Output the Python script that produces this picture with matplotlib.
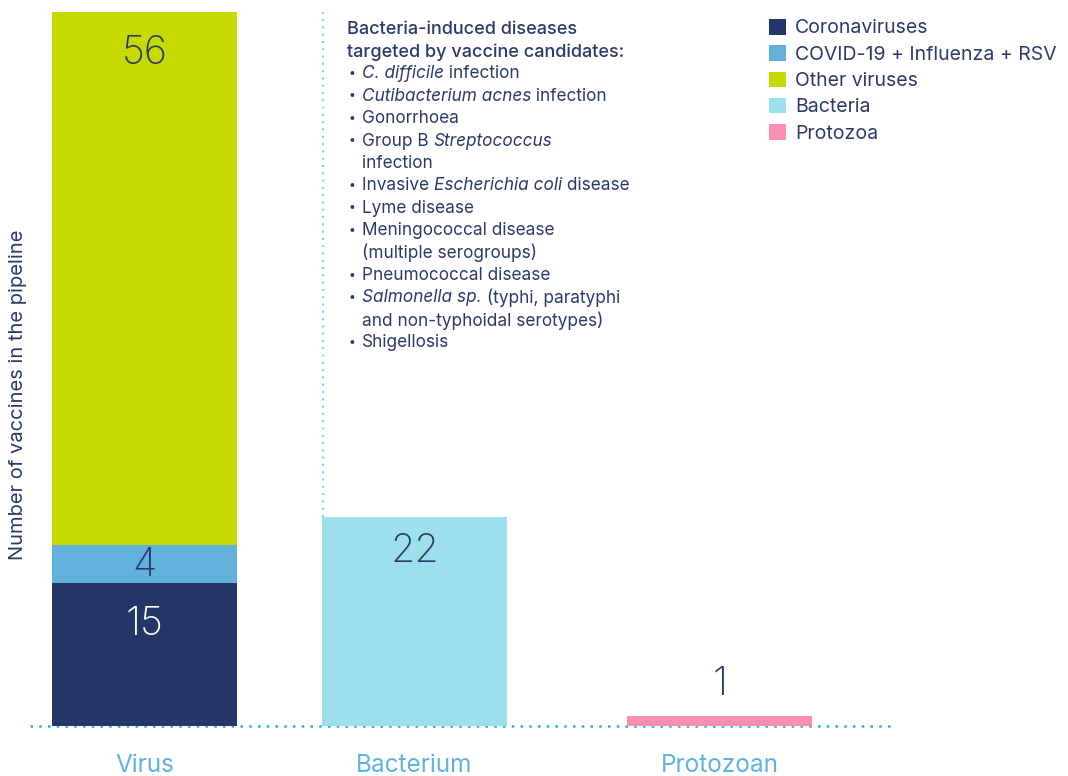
import matplotlib.pyplot as plt

plt.rcParams['font.family'] = ['Inter', 'DejaVu Sans']

categories = ["Virus", "Bacterium", "Protozoan"]
series = ["Coronaviruses", "COVID-19 + Influenza + RSV", "Other viruses", "Bacteria", "Protozoa"]
colors = ["#243568", "#62b1dc", "#c6da00", "#9ddfeb", "#fb8fb2"]
# values per series, per category
coronaviruses = [15, 0, 0]
covid_flu_rsv = [4, 0, 0]
other_viruses = [56, 0, 0]
bacteria = [0, 22, 0]
protozoa = [0, 0, 1]

TXT = "#2b3a6b"
LBL = "#5fb3de"
W, H = 1068, 776

fig = plt.figure(figsize=(W / 100, H / 100), dpi=100)
ax = fig.add_axes([30 / W, 1 - 726 / H, (890 - 30) / W, (726 - 12) / H])

xpos = [0, 1, 2.13]
width = 0.685
stack = [coronaviruses, covid_flu_rsv, other_viruses, bacteria, protozoa]
bottom = [0, 0, 0]
for vals, name, c in zip(stack, series, colors):
    ax.bar(xpos, vals, width, bottom=bottom, color=c, label=name, zorder=2)
    bottom = [b + v for b, v in zip(bottom, vals)]

ax.set_xlim(-0.424, 2.761)
ax.set_ylim(0, 75)
ax.axis("off")

# value labels
num = dict(ha="center", va="center", fontsize=28.5, fontweight="light")
total_virus = coronaviruses[0] + covid_flu_rsv[0] + other_viruses[0]
ax.text(xpos[0], total_virus - 4.4, str(other_viruses[0]), color=TXT, **num)
ax.text(xpos[0], coronaviruses[0] + covid_flu_rsv[0] / 2 - 0.1, str(covid_flu_rsv[0]), color=TXT, **num)
ax.text(xpos[0], coronaviruses[0] - 4.3, str(coronaviruses[0]), color="white", **num)
ax.text(xpos[1], bacteria[1] - 3.7, str(bacteria[1]), color=TXT, **num)
ax.text(xpos[2], protozoa[2] + 3.4, str(protozoa[2]), color=TXT, **num)

# dotted baseline and divider
ax.plot([-0.424, 2.761], [0, 0], linestyle=(0, (1, 2.5)), color="#1fb4e6",
        lw=1.8, zorder=1, clip_on=False)
ax.plot([xpos[1] - width / 2 + 0.005] * 2, [bacteria[1], 75], linestyle=(0, (1, 2.5)),
        color="#7fd3ea", lw=1.5, zorder=1, clip_on=False)

# category labels
for x, cat in zip(xpos, categories):
    ax.text(x, -4.15, cat, ha="center", va="center", fontsize=17.5, color=LBL, clip_on=False)

fig.text(18 / W, 1 - 395 / H, "Number of vaccines in the pipeline", rotation=90,
         ha="center", va="center", fontsize=14.5, color=TXT)

# legend
leg = fig.legend(loc="upper left", bbox_to_anchor=(769 / W, 1 - 19 / H), frameon=False,
                 labelcolor=TXT, handlelength=0.85, handleheight=0.85,
                 handletextpad=0.5, labelspacing=0.4, borderaxespad=0, borderpad=0,
                 prop={"size": 14})

# annotation text
fig.text(347 / W, 1 - 30 / H, "Bacteria-induced diseases", ha="left", va="center",
         fontsize=13, color=TXT, fontweight="medium")
fig.text(347 / W, 1 - 52 / H, "targeted by vaccine candidates:", ha="left", va="center",
         fontsize=13, color=TXT, fontweight="medium")

lines = [
    (True, [("C. difficile", "italic"), (" infection", "normal")]),
    (True, [("Cutibacterium acnes", "italic"), (" infection", "normal")]),
    (True, [("Gonorrhoea", "normal")]),
    (True, [("Group B ", "normal"), ("Streptococcus", "italic")]),
    (False, [("infection", "normal")]),
    (True, [("Invasive ", "normal"), ("Escherichia coli", "italic"), (" disease", "normal")]),
    (True, [("Lyme disease", "normal")]),
    (True, [("Meningococcal disease", "normal")]),
    (False, [("(multiple serogroups)", "normal")]),
    (True, [("Pneumococcal disease", "normal")]),
    (True, [("Salmonella sp.", "italic"), (" (typhi, paratyphi", "normal")]),
    (False, [("and non-typhoidal serotypes)", "normal")]),
    (True, [("Shigellosis", "normal")]),
]
y = 74
for bullet, parts in lines:
    yf = 1 - y / H
    if bullet:
        fig.text(348.5 / W, yf, "•", ha="left", va="center", fontsize=8.5, color=TXT)
    prev = None
    for s, style in parts:
        if prev is None:
            prev = fig.text(362 / W, yf, s, ha="left", va="center", fontsize=12.4,
                            color=TXT, style=style)
        else:
            prev = plt.annotate(s, xy=(1, 0.5), xycoords=prev, ha="left", va="center",
                                fontsize=12.4, color=TXT, style=style,
                                annotation_clip=False)
    y += 22.4

fig.savefig("out.png", dpi=100)
